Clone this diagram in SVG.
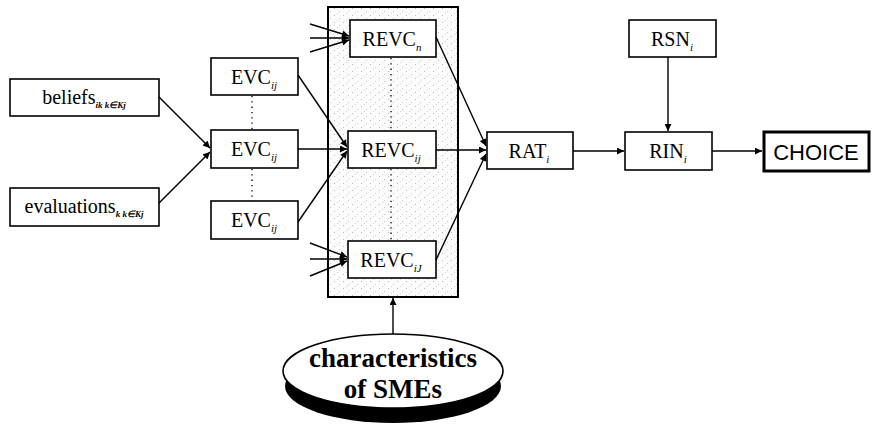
<svg xmlns="http://www.w3.org/2000/svg" width="873" height="427" viewBox="0 0 873 427">
<defs>
<marker id="ah" viewBox="0 0 10 10" refX="10" refY="5" markerWidth="8" markerHeight="7" markerUnits="userSpaceOnUse" orient="auto">
<path d="M0,0 L10,5 L0,10 z" fill="#000"/>
</marker>
<pattern id="speck" width="9" height="7" patternUnits="userSpaceOnUse">
<rect width="9" height="7" fill="#fbfbfb"/>
<rect x="1" y="1" width="1" height="1" fill="#b8b8b8"/>
<rect x="6" y="4" width="1" height="1" fill="#c8c8c8"/>
<rect x="4" y="6" width="1" height="1" fill="#d4d4d4"/>
</pattern>
<style>
.box{fill:#fff;stroke:#000;stroke-width:1.6}
.t{font-family:"Liberation Serif","Times New Roman",serif;font-size:20px;fill:#000}
.s{font-style:italic;font-size:11px}
.ss{font-style:italic;font-size:9px;font-weight:bold}
.c{stroke:#000;stroke-width:1.4;fill:none}
.dot{stroke:#000;stroke-width:1.3;stroke-dasharray:1.3 4;fill:none}
.e{font-family:"Liberation Serif","Times New Roman",serif;font-size:27px;font-weight:bold;fill:#000}
</style>
</defs>

<g id="revc-panel">
<rect x="328" y="7" width="130" height="290" fill="url(#speck)" stroke="#000" stroke-width="2"/>
</g>

<g id="beliefs">
<rect class="box" x="10" y="79" width="149" height="37"/>
<text class="t" x="84" y="104" text-anchor="middle">beliefs<tspan class="ss" dy="4">ik k∈Kj</tspan></text>
</g>
<g id="evaluations">
<rect class="box" x="10" y="188" width="149" height="38"/>
<text class="t" x="84" y="213" text-anchor="middle">evaluations<tspan class="ss" dy="4">k k∈Kj</tspan></text>
</g>

<g id="evc1">
<rect class="box" x="211" y="58" width="87" height="37"/>
<text class="t" x="254" y="84" text-anchor="middle">EVC<tspan class="s" dy="5">ij</tspan></text>
</g>
<g id="evc2">
<rect class="box" x="211" y="130" width="87" height="38"/>
<text class="t" x="254" y="156" text-anchor="middle">EVC<tspan class="s" dy="5">ij</tspan></text>
</g>
<g id="evc3">
<rect class="box" x="211" y="201" width="87" height="38"/>
<text class="t" x="254" y="227" text-anchor="middle">EVC<tspan class="s" dy="5">ij</tspan></text>
</g>

<g id="revc1">
<rect class="box" x="350" y="20" width="86" height="37"/>
<text class="t" x="392" y="46" text-anchor="middle">REVC<tspan class="s" dy="5">n</tspan></text>
</g>
<g id="revc2">
<rect class="box" x="348" y="131" width="88" height="37"/>
<text class="t" x="391" y="157" text-anchor="middle">REVC<tspan class="s" dy="5">ij</tspan></text>
</g>
<g id="revc3">
<rect class="box" x="348" y="241" width="88" height="37"/>
<text class="t" x="391" y="267" text-anchor="middle">REVC<tspan class="s" dy="5">iJ</tspan></text>
</g>

<g id="rat">
<rect class="box" x="487" y="132" width="86" height="37"/>
<text class="t" x="529" y="158" text-anchor="middle">RAT<tspan class="s" dy="5">i</tspan></text>
</g>
<g id="rsn">
<rect class="box" x="629" y="20" width="87" height="37"/>
<text class="t" x="672" y="46" text-anchor="middle">RSN<tspan class="s" dy="5">i</tspan></text>
</g>
<g id="rin">
<rect class="box" x="625" y="132" width="87" height="38"/>
<text class="t" x="668" y="158" text-anchor="middle">RIN<tspan class="s" dy="5">i</tspan></text>
</g>
<g id="choice">
<rect x="764" y="132" width="105" height="39" fill="#fff" stroke="#000" stroke-width="3"/>
<text x="816" y="160" text-anchor="middle" font-family="Liberation Sans, Arial, sans-serif" font-size="22" fill="#000">CHOICE</text>
</g>

<g id="characteristics">
<ellipse cx="393" cy="386" rx="108" ry="37" fill="#000"/>
<ellipse cx="393" cy="371" rx="110" ry="37" fill="#fff" stroke="#000" stroke-width="1.6"/>
<text class="e" x="393" y="367" text-anchor="middle">characteristics</text>
<text class="e" x="393" y="398" text-anchor="middle">of SMEs</text>
</g>

<g id="connectors">
<path class="c" d="M159,97 L210,148" marker-end="url(#ah)"/>
<path class="c" d="M159,203 L210,152" marker-end="url(#ah)"/>
<path class="dot" d="M252,96 V130"/>
<path class="dot" d="M252,169 V201"/>
<path class="c" d="M298,75 L347,147" marker-end="url(#ah)"/>
<path class="c" d="M298,149 L347,149" marker-end="url(#ah)"/>
<path class="c" d="M298,222 L347,151" marker-end="url(#ah)"/>
<path class="c" d="M310,24 L349,36" marker-end="url(#ah)"/>
<path class="c" d="M310,38 L349,38" marker-end="url(#ah)"/>
<path class="c" d="M310,52 L349,40" marker-end="url(#ah)"/>
<path class="c" d="M310,243 L347,257" marker-end="url(#ah)"/>
<path class="c" d="M310,259 L347,259" marker-end="url(#ah)"/>
<path class="c" d="M310,276 L347,261" marker-end="url(#ah)"/>
<path class="dot" d="M391,58 V131"/>
<path class="dot" d="M391,169 V241"/>
<path class="c" d="M436,37 L486,146" marker-end="url(#ah)"/>
<path class="c" d="M436,150 L486,150" stroke-width="2" marker-end="url(#ah)"/>
<path class="c" d="M436,260 L486,154" marker-end="url(#ah)"/>
<path class="c" d="M573,151 L624,151" marker-end="url(#ah)"/>
<path class="c" d="M668,57 L668,131" stroke-width="1.8" marker-end="url(#ah)"/>
<path class="c" d="M712,151 L762,151" stroke-width="1.8" marker-end="url(#ah)"/>
<path class="c" d="M393,334 L393,298" stroke-width="1.8" marker-end="url(#ah)"/>
</g>
</svg>
